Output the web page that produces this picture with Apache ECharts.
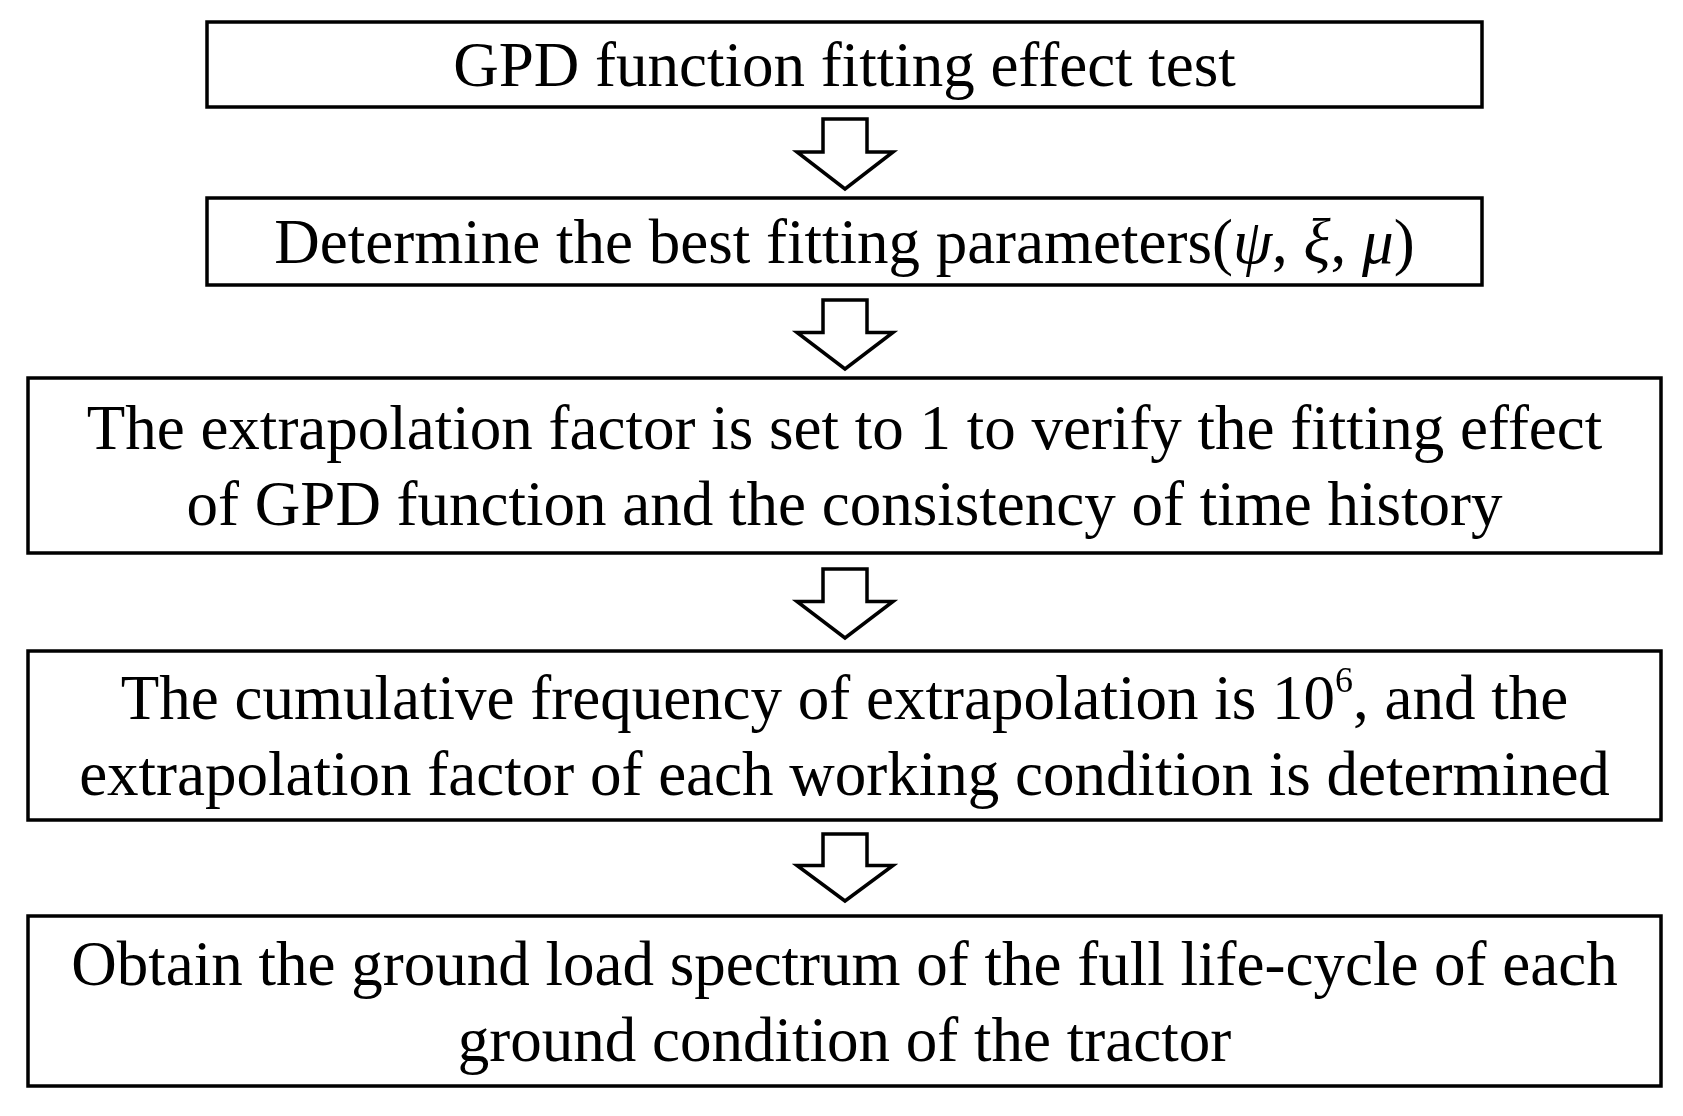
<!DOCTYPE html>
<html><head><meta charset="utf-8">
<script src="https://cdn.jsdelivr.net/npm/echarts@6/dist/echarts.min.js"></script>
<style>html,body{margin:0;padding:0;background:#fff}#c{width:1683px;height:1116px}</style>
</head><body><div id="c"></div>
<script>
var steps = [
  ['GPD function fitting effect test'],
  ['Determine the best fitting parameters({g|ψ}, {g|ξ}, {g|μ})'],
  ['The extrapolation factor is set to 1 to verify the fitting effect', 'of GPD function and the consistency of time history'],
  ['The cumulative frequency of extrapolation is 10{sup|6}, and the', 'extrapolation factor of each working condition is determined'],
  ['Obtain the ground load spectrum of the full life-cycle of each', 'ground condition of the tractor']
];
var boxes = [[207,22,1482,107],[207,198,1482,285],[28,378,1661,553],[28,651,1661,820],[28,916,1661,1086]];
var arrows = [[119,189],[300,369],[569,638],[834,901]];
var cx = 845;
var g = [];
boxes.forEach(function(b,i){
  g.push({type:'rect',shape:{x:b[0],y:b[1],width:b[2]-b[0],height:b[3]-b[1]},style:{fill:'#fff',stroke:'#000',lineWidth:3.5}});
  g.push({type:'text',x:(b[0]+b[2])/2,y:(b[1]+b[3])/2+5,style:{text:steps[i].join('\n'),font:'63px "Liberation Serif"',fill:'#000',align:'center',verticalAlign:'middle',lineHeight:76,
    rich:{g:{font:'italic 63px "Liberation Serif"',fill:'#000',lineHeight:76},sup:{font:'36px "Liberation Serif"',fill:'#000',verticalAlign:'top',padding:[0,0,24,0],lineHeight:76}}}});
});
arrows.forEach(function(a){
  var t=a[0],b=a[1],m=t+(b-t)*0.47;
  g.push({type:'polygon',shape:{points:[[cx-22,t],[cx+22,t],[cx+22,m],[cx+48,m],[cx,b],[cx-48,m],[cx-22,m]]},style:{fill:'#fff',stroke:'#000',lineWidth:3.5}});
});
var chart = echarts.init(document.getElementById('c'));
chart.setOption({backgroundColor:'#fff',graphic:g});
</script></body></html>
